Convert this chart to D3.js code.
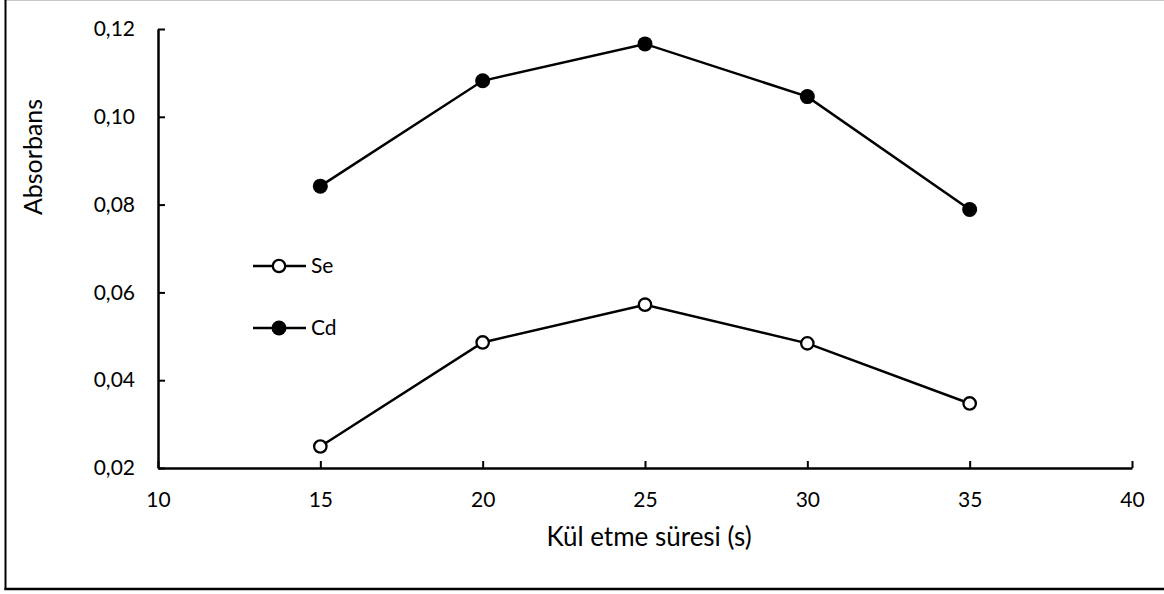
<!DOCTYPE html>
<html>
<head>
<meta charset="utf-8">
<script src="https://cdn.jsdelivr.net/npm/d3@7"></script>
<style>
  html, body { margin: 0; padding: 0; background: #fff; }
  svg { display: block; }
  text { font-family: Lato, "Open Sans", sans-serif; fill: #000; }
</style>
</head>
<body>
<svg id="chart" width="1164" height="594"></svg>
<script>
// Ashing time (s) and absorbance readings for Se and Cd
const times = [15, 20, 25, 30, 35];
const seValues = [0.0249, 0.0486, 0.0572, 0.0484, 0.0347];
const cdValues = [0.0842, 0.1082, 0.1166, 0.1046, 0.0789];
const xTicks = [10, 15, 20, 25, 30, 35, 40];
const yTicks = [0.02, 0.04, 0.06, 0.08, 0.10, 0.12];
const seriesNames = ["Se", "Cd"];

const svg = d3.select("#chart");
const W = 1164;
const FONT = "Lato, 'Open Sans', sans-serif";

// outer frame
svg.append("line").attr("x1", 4).attr("x2", W).attr("y1", 0.5).attr("y2", 0.5)
  .attr("stroke", "#c8c8c8").attr("stroke-width", 1);
svg.append("line").attr("x1", 5.5).attr("x2", 5.5).attr("y1", 0).attr("y2", 590)
  .attr("stroke", "#000").attr("stroke-width", 2);
svg.append("line").attr("x1", 4.5).attr("x2", W).attr("y1", 589).attr("y2", 589)
  .attr("stroke", "#000").attr("stroke-width", 2.5);

const x = d3.scaleLinear().domain([10, 40]).range([158, 1132]);
const y = d3.scaleLinear().domain([0.02, 0.12]).range([468, 29]);

const fmt = d => d3.format(".2f")(d).replace(".", ",");

// x axis
const gx = svg.append("g").attr("transform", `translate(0,${y(0.02)})`)
  .call(d3.axisBottom(x).tickValues(xTicks).tickSize(-7).tickSizeOuter(0).tickPadding(24));
gx.select(".domain").attr("stroke", "#000").attr("stroke-width", 2.5);
gx.selectAll(".tick line").attr("stroke", "#000").attr("stroke-width", 2);
gx.selectAll(".tick text").attr("font-size", 21).attr("font-family", FONT);

// y axis
const gy = svg.append("g").attr("transform", `translate(${x(10)},0)`)
  .call(d3.axisLeft(y).tickValues(yTicks).tickFormat(fmt).tickSize(-7).tickSizeOuter(0).tickPadding(23));
gy.select(".domain").attr("stroke", "#000").attr("stroke-width", 2.5);
gy.selectAll(".tick line").attr("stroke", "#000").attr("stroke-width", 2);
gy.selectAll(".tick text").attr("font-size", 21).attr("font-family", FONT);

// axis titles
svg.append("text").attr("x", 649).attr("y", 546).attr("text-anchor", "middle")
  .attr("font-size", 26).text("Kül etme süresi (s)");
svg.append("text").attr("transform", "translate(42,157) rotate(-90)")
  .attr("text-anchor", "middle").attr("font-size", 25).text("Absorbans");

const line = d3.line().x((d, i) => x(times[i])).y(d => y(d));

function drawSeries(values, filled) {
  svg.append("path").datum(values).attr("d", line)
    .attr("fill", "none").attr("stroke", "#000").attr("stroke-width", 2.5);
  svg.selectAll(null).data(values).enter().append("circle")
    .attr("cx", (d, i) => x(times[i])).attr("cy", d => y(d))
    .attr("r", filled ? 7.5 : 6.2)
    .attr("fill", filled ? "#000" : "#fff")
    .attr("stroke", "#000").attr("stroke-width", filled ? 0 : 2.3);
}
drawSeries(cdValues, true);
drawSeries(seValues, false);

// legend
const legendY = [266, 328];
seriesNames.forEach((name, i) => {
  const g = svg.append("g").attr("transform", `translate(0,${legendY[i]})`);
  g.append("line").attr("x1", 253).attr("x2", 306).attr("y1", 0).attr("y2", 0)
    .attr("stroke", "#000").attr("stroke-width", 2.5);
  g.append("circle").attr("cx", 279).attr("cy", 0)
    .attr("r", i === 1 ? 7.5 : 6.2)
    .attr("fill", i === 1 ? "#000" : "#fff")
    .attr("stroke", "#000").attr("stroke-width", i === 1 ? 0 : 2.3);
  g.append("text").attr("x", 311).attr("y", 0).attr("dy", "0.35em")
    .attr("font-size", 21).text(name);
});
</script>
</body>
</html>
